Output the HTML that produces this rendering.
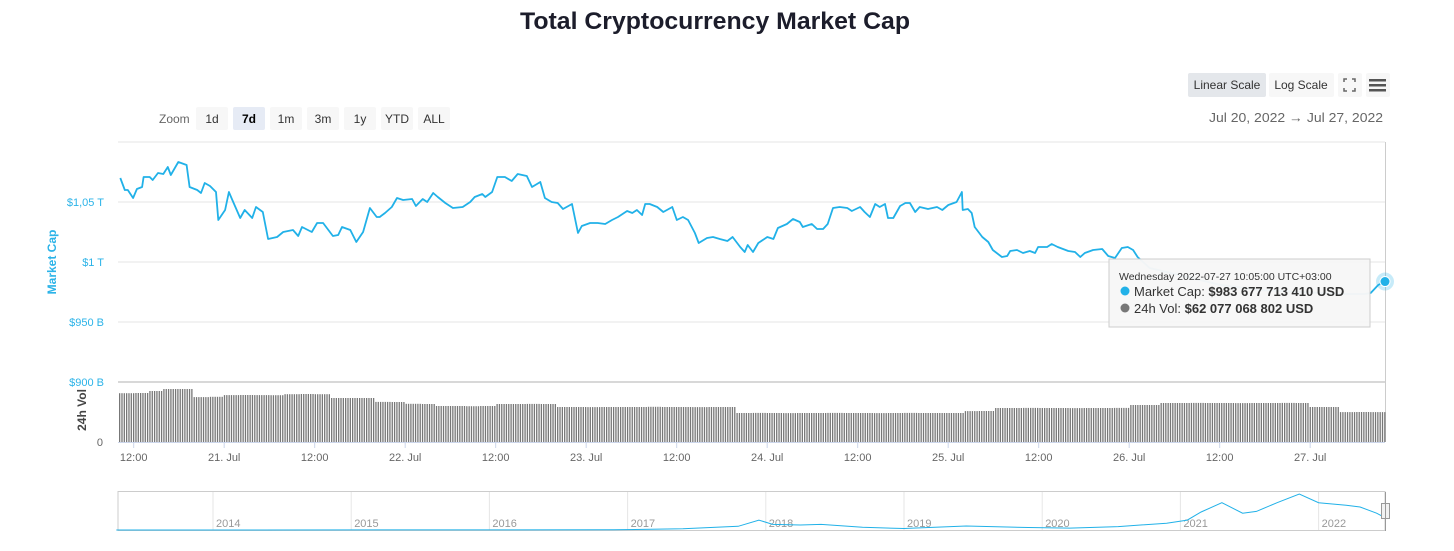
<!DOCTYPE html>
<html><head><meta charset="utf-8">
<style>
html,body{margin:0;padding:0;background:#fff;}
body{width:1454px;height:546px;overflow:hidden;font-family:"Liberation Sans",sans-serif;}
svg text{font-family:"Liberation Sans",sans-serif;}
</style></head>
<body>
<svg id="chart" width="1454" height="546" viewBox="0 0 1454 546" xmlns="http://www.w3.org/2000/svg">
  <text x="715" y="29" text-anchor="middle" font-size="24" font-weight="bold" fill="#1c1d2b" textLength="390" lengthAdjust="spacingAndGlyphs">Total Cryptocurrency Market Cap</text>

  <g>
    <rect x="1188" y="73" width="78" height="24" rx="2" fill="#e4e7eb"/>
    <text x="1227" y="89" text-anchor="middle" font-size="12" fill="#333">Linear Scale</text>
    <rect x="1269" y="73" width="65" height="24" rx="2" fill="#f7f7f7"/>
    <text x="1301" y="89" text-anchor="middle" font-size="12" fill="#333">Log Scale</text>
    <rect x="1338" y="73" width="24" height="24" rx="2" fill="#f7f7f7"/>
    <g stroke="#666" stroke-width="1.5" fill="none">
      <path d="M1344 82 L1344 79 L1347 79 M1352 79 L1355 79 L1355 82 M1344 88 L1344 91 L1347 91 M1352 91 L1355 91 L1355 88"/>
    </g>
    <rect x="1366" y="73" width="24" height="24" rx="2" fill="#f7f7f7"/>
    <g fill="#555">
      <rect x="1369" y="79" width="17" height="2.5"/><rect x="1369" y="84" width="17" height="2.5"/><rect x="1369" y="89" width="17" height="2.5"/>
    </g>
  </g>

  <g>
    <text x="159" y="123" font-size="12" fill="#666">Zoom</text>
    <rect x="196" y="107" width="32" height="23" rx="2" fill="#f7f7f7"/>
    <text x="212" y="123" text-anchor="middle" font-size="12" fill="#333">1d</text>
    <rect x="233" y="107" width="32" height="23" rx="2" fill="#e6ebf5"/>
    <text x="249" y="123" text-anchor="middle" font-size="12" font-weight="bold" fill="#000">7d</text>
    <rect x="270" y="107" width="32" height="23" rx="2" fill="#f7f7f7"/>
    <text x="286" y="123" text-anchor="middle" font-size="12" fill="#333">1m</text>
    <rect x="307" y="107" width="32" height="23" rx="2" fill="#f7f7f7"/>
    <text x="323" y="123" text-anchor="middle" font-size="12" fill="#333">3m</text>
    <rect x="344" y="107" width="32" height="23" rx="2" fill="#f7f7f7"/>
    <text x="360" y="123" text-anchor="middle" font-size="12" fill="#333">1y</text>
    <rect x="381" y="107" width="32" height="23" rx="2" fill="#f7f7f7"/>
    <text x="397" y="123" text-anchor="middle" font-size="12" fill="#333">YTD</text>
    <rect x="418" y="107" width="32" height="23" rx="2" fill="#f7f7f7"/>
    <text x="434" y="123" text-anchor="middle" font-size="12" fill="#333">ALL</text>
  </g>
  <text x="1383" y="122" text-anchor="end" font-size="13" fill="#666" textLength="174" lengthAdjust="spacingAndGlyphs">Jul 20, 2022  →  Jul 27, 2022</text>

  <g id="grid"></g>
  <g id="vol"></g>
  <g id="line"></g>
  <g id="axes"></g>
  <g id="nav"></g>
  <g id="hover"></g>

  <g>
    <rect x="1109" y="259" width="261" height="68" fill="#f7f7f7" stroke="#cccccc" stroke-width="1" opacity="0.97"/>
    <text x="1119" y="280" font-size="10.5" fill="#333">Wednesday 2022-07-27 10:05:00 UTC+03:00</text>
    <circle cx="1125" cy="291" r="4.5" fill="#21b1e8"/>
    <text x="1134" y="296" font-size="13" fill="#333">Market Cap: <tspan font-weight="bold">$983 677 713 410 USD</tspan></text>
    <circle cx="1125" cy="308" r="4.5" fill="#777"/>
    <text x="1134" y="313" font-size="13" fill="#333">24h Vol: <tspan font-weight="bold">$62 077 068 802 USD</tspan></text>
  </g>
</svg>
<script>
// ---- data ----
// hours since 2022-07-20 09:55 (UTC+3)
const capHours = [0.3,0.9,1.3,2.0,2.5,3.2,3.4,4.2,4.6,5.3,6.0,6.6,7.0,8.0,9.1,9.5,10.5,11.0,11.5,12.2,13.0,13.3,14.2,14.7,15.1,16.2,16.8,17.8,18.3,19.2,19.9,21.1,21.9,23.2,23.9,24.4,25.7,26.4,27.2,28.5,29.2,29.7,30.8,31.6,32.5,33.4,34.3,34.7,35.4,36.3,37.0,37.8,39.0,39.5,40.4,41.0,41.8,42.4,43.4,44.4,45.7,46.7,47.3,48.3,48.7,49.6,50.3,51.3,52.2,53.0,54.2,54.9,56.0,56.6,57.5,58.3,59.0,60.2,61.0,61.5,62.6,63.6,64.6,65.5,66.3,67.5,68.2,68.8,69.5,69.9,70.5,71.5,72.3,73.5,74.1,74.9,75.6,76.5,77.0,78.1,78.9,79.8,80.8,81.5,82.5,83.1,83.5,84.2,84.9,86.1,86.9,87.5,88.7,89.5,90.4,90.8,92.0,92.7,93.5,94.1,94.8,95.7,96.7,97.3,98.4,99.0,99.7,100.4,101.0,101.7,102.1,102.8,103.7,104.4,105.0,105.7,106.3,107.4,108.6,109.3,110.1,111.2,111.9,112.0,112.7,113.2,113.6,114.6,115.4,116.0,117.2,117.9,118.3,119.2,120.0,120.9,121.6,122.0,123.2,123.8,124.6,126.0,126.9,127.6,128.2,129.3,130.5,131.3,132.2,133.1,133.9,134.6,135.2,136.8,140.8,146.1,151.4,156.7,162.0,165.3,166.1,167.1,168.0];
// market cap, billions USD
const capValues = [1070,1060,1060,1053.3,1060.8,1062.5,1070.8,1070.8,1068.3,1074.2,1073.3,1079.2,1072.5,1083.3,1080.8,1062.5,1060,1057.5,1065.8,1063.3,1058.3,1035,1043.3,1058.3,1052.5,1036.7,1043.3,1036.7,1045.8,1041.7,1019.2,1020.8,1025,1026.7,1021.7,1029.2,1025,1032.5,1032.5,1021.7,1022.5,1029.2,1026.7,1016.7,1025,1045,1037.5,1037.5,1040.8,1045.8,1053.3,1051.7,1052.5,1046.7,1052.5,1050,1057.5,1054.2,1049.2,1045,1045.8,1050,1054.2,1056.7,1054.2,1058.3,1070.8,1070.8,1067.5,1073.3,1071.7,1062.5,1066.7,1053.3,1050,1049.2,1044.2,1048.3,1024.2,1030,1032.5,1032.5,1031.7,1035,1037.5,1042.5,1040.8,1043.3,1039.2,1048.3,1048.3,1045.8,1041.7,1045.8,1035,1037.5,1035,1024.2,1015.8,1020,1020.8,1019.2,1017.5,1020.8,1012.5,1008.3,1014.2,1008.3,1015.8,1020.8,1019.2,1028.3,1031.7,1035.8,1033.3,1029.2,1031.7,1027.5,1027.5,1031.7,1045,1045.8,1045,1042.5,1045.8,1041.7,1037.5,1048.3,1045.8,1048.3,1036.7,1036.7,1046.7,1049.2,1049.2,1041.7,1045.8,1044.2,1045.8,1043.3,1047.5,1050,1058.3,1043.3,1044.2,1040.8,1029.2,1020.8,1016.7,1010,1004.2,1005,1009.2,1010,1007.5,1009.2,1007.5,1012.5,1012.5,1015,1012.5,1009.2,1008.3,1004.2,1007.5,1010,1010.8,1005,1003.3,1011.7,1012.5,1010,1004.2,995,989,981,976.7,975,973.3,973.3,974.2,980.8,983.7];
// 24h volume, billions USD, 2-hour buckets
const volValues = [101,101.5,105.6,109.7,109.7,93,93.5,97,97.3,97,96.8,99,99.4,99,91,91.2,91,83,82.8,79,78.7,74.5,74.5,74.2,74.5,78.7,78.7,78.9,78.7,72.5,72.5,72.3,72.5,72.5,72.5,72.8,72.5,72.5,72.3,72.5,72.5,60,60.2,60,59.8,60,60,60.2,60,60,59.8,60,60.2,60,60,60,64,64.2,70.4,70.4,70.6,70.4,70.4,70.2,70.4,70.4,70.6,76.6,76.6,80.7,80.7,80.9,80.7,80.7,80.5,80.7,80.7,80.9,80.7,72.5,72.5,62,62.2,62,62.1];
const yTickValues = [900,950,1000,1050,1100];
const yTickLabels = ["$900 B","$950 B","$1 T","$1,05 T",""];
const xTickHours = [2.08,14.08,26.08,38.08,50.08,62.08,74.08,86.08,98.08,110.08,122.08,134.08,146.08,158.08];
const xTickLabels = ["12:00","21. Jul","12:00","22. Jul","12:00","23. Jul","12:00","24. Jul","12:00","25. Jul","12:00","26. Jul","12:00","27. Jul"];
const navYears = [2013.3,2016.9,2017.4,2017.8,2017.95,2018.05,2018.25,2018.4,2018.7,2019.0,2019.45,2019.9,2020.2,2020.55,2020.9,2021.05,2021.15,2021.3,2021.45,2021.55,2021.7,2021.86,2022.0,2022.2,2022.3,2022.42,2022.48];
const navValues = [1,18,100,300,800,450,400,450,220,120,320,200,150,270,550,800,1450,2200,1350,1500,2200,2900,2200,2000,1850,1350,1000];
const navYearLabels = [2014,2015,2016,2017,2018,2019,2020,2021,2022];

// ---- scales ----
const X0 = 118, X1 = 1385, HOURS = 168;
const xOf = h => X0 + (h / HOURS) * (X1 - X0);
const yOf = v => 262 - (v - 1000) * 1.2;
const volBase = 442, volScale = 0.483;
const yVol = v => volBase - v * volScale;
const navX = yr => 213 + (yr - 2014) * 138.2;
const navY = v => 530 - v * (36 / 2900);
const NS = "http://www.w3.org/2000/svg";
function mk(tag, attrs, parent) {
  const e = document.createElementNS(NS, tag);
  for (const k in attrs) e.setAttribute(k, attrs[k]);
  parent.appendChild(e);
  return e;
}

// grid + y labels
const grid = document.getElementById('grid');
yTickValues.forEach((v, i) => {
  const y = yOf(v);
  const gl = mk('line', {x1: X0, x2: X1, y1: y, y2: y, stroke: v === 900 ? '#d8d8d8' : '#e6e6e6', 'stroke-width': v === 900 ? 2 : 1}, grid);
  
  
  if (yTickLabels[i]) {
    const t = mk('text', {x: 104, y: y + 4, 'text-anchor': 'end', 'font-size': 11, fill: '#2bb3e8'}, grid);
    t.textContent = yTickLabels[i];
    
    
  }
});
const zl = mk('text', {x: 103, y: 446, 'text-anchor': 'end', 'font-size': 11, fill: '#666'}, grid);
zl.textContent = '0';


const yt = mk('text', {x: 0, y: 0, 'text-anchor': 'middle', 'font-size': 12, 'font-weight': 'bold', fill: '#2bb3e8', transform: 'translate(56,262) rotate(-90)'}, grid);
yt.textContent = 'Market Cap';


const vt = mk('text', {x: 0, y: 0, 'text-anchor': 'middle', 'font-size': 12, 'font-weight': 'bold', fill: '#444', transform: 'translate(86,410) rotate(-90)'}, grid);
vt.textContent = '24h Vol';


const rl = mk('line', {x1: X1 + 0.5, x2: X1 + 0.5, y1: 142, y2: 442, stroke: '#cccccc', 'stroke-width': 1}, grid);



// volume bars
const volG = document.getElementById('vol');
const pitch = 2.33;
for (let x = X0 + 1; x < X1; x += pitch) {
  const h = (x - X0) / (X1 - X0) * HOURS;
  const idx = Math.min(volValues.length - 1, Math.floor(h / 2));
  const v = volValues[idx];
  const b = mk('rect', {x: x.toFixed(2), y: yVol(v).toFixed(1), width: 1.3, height: (v * volScale).toFixed(1), fill: '#777777'}, volG);
  
  
}

// market cap line
const lineG = document.getElementById('line');
const d = capHours.map((h, i) => (i ? 'L' : 'M') + xOf(h).toFixed(1) + ' ' + yOf(capValues[i]).toFixed(1)).join(' ');
const p = mk('path', {d: d, fill: 'none', stroke: '#21b1e8', 'stroke-width': 1.8, 'stroke-linejoin': 'round'}, lineG);



// x axis
const axes = document.getElementById('axes');
const xa = mk('line', {x1: X0, x2: X1, y1: 442.5, y2: 442.5, stroke: '#ccd6eb', 'stroke-width': 1}, axes);


xTickHours.forEach((h, i) => {
  const x = xOf(h);
  const tk = mk('line', {x1: x, x2: x, y1: 442, y2: 448, stroke: '#ccd6eb'}, axes);
  
  
  const t = mk('text', {x: x, y: 461, 'text-anchor': 'middle', 'font-size': 11, fill: '#666'}, axes);
  t.textContent = xTickLabels[i];
  
  
});

// navigator
const nav = document.getElementById('nav');
const nb = mk('rect', {x: X0, y: 491.5, width: X1 - X0, height: 39, fill: 'none', stroke: '#cccccc'}, nav);


navYearLabels.forEach(yr => {
  const x = navX(yr);
  const gl = mk('line', {x1: x, x2: x, y1: 492, y2: 530, stroke: '#e6e6e6'}, nav);
  
  
  const t = mk('text', {x: x + 3, y: 527, 'font-size': 11, fill: '#999'}, nav);
  t.textContent = yr;
  
  
});
const nd = navYears.map((yr, i) => (i ? 'L' : 'M') + Math.min(X1, navX(yr)).toFixed(1) + ' ' + navY(navValues[i]).toFixed(1)).join(' ');
const np = mk('path', {d: nd, fill: 'none', stroke: '#21b1e8', 'stroke-width': 1}, nav);


const hl = mk('rect', {x: 1381.5, y: 503.5, width: 8, height: 15, fill: '#f2f2f2', stroke: '#999'}, nav);


mk('line', {x1: 1385.5, x2: 1385.5, y1: 492, y2: 531, stroke: '#999'}, nav);

// hover marker
const hov = document.getElementById('hover');
const lastH = capHours[capHours.length - 1], lastV = capValues[capValues.length - 1];
mk('circle', {cx: xOf(lastH), cy: yOf(lastV), r: 9, fill: '#21b1e8', opacity: 0.25}, hov);
const dot = mk('circle', {cx: xOf(lastH), cy: yOf(lastV), r: 5, fill: '#21b1e8', stroke: '#fff', 'stroke-width': 1}, hov);


</script>
</body></html>
